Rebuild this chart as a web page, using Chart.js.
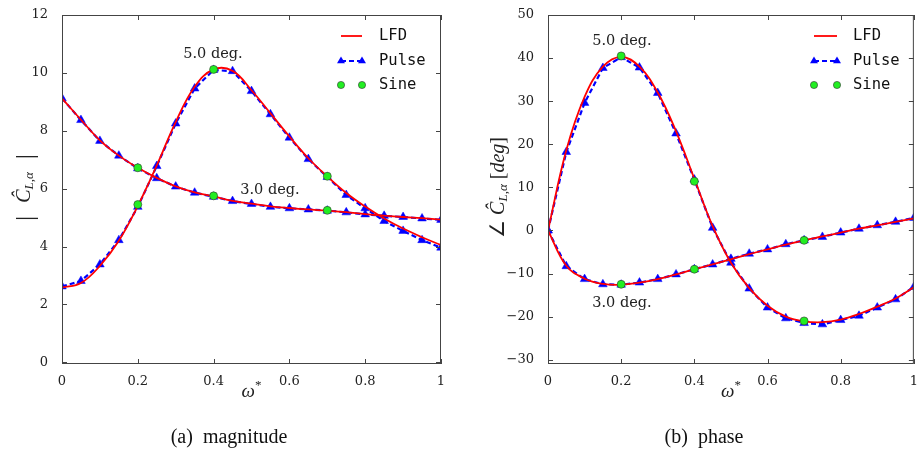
<!DOCTYPE html>
<html>
<head>
<meta charset="utf-8">
<script src="https://cdn.jsdelivr.net/npm/chart.js@4.4.1/dist/chart.umd.min.js"></script>
<style>
  body { margin: 0; background: #fff; }
  #wrap { position: relative; width: 920px; height: 453px; }
  canvas { position: absolute; top: 0; }
  .cap { position: absolute; top: 425px; width: 300px; text-align: center;
         font: 20px "Liberation Serif", serif; color: #111; white-space: pre; }
</style>
</head>
<body>
<div id="wrap">
  <canvas id="magChart" width="460" height="453" style="left:0"></canvas>
  <canvas id="phaseChart" width="460" height="453" style="left:460px"></canvas>
  <div class="cap" style="left:79px">(a)  magnitude</div>
  <div class="cap" style="left:554px">(b)  phase</div>
</div>
<script>
// reduced frequency samples
const omega = [0, 0.05, 0.1, 0.15, 0.2, 0.25, 0.3, 0.35, 0.4, 0.45, 0.5,
               0.55, 0.6, 0.65, 0.7, 0.75, 0.8, 0.85, 0.9, 0.95, 1.0];
const omegaSine = [0.2, 0.4, 0.7];

// magnitude |C_L,alpha|
const magLfd3   = [9.12, 8.38, 7.67, 7.14, 6.72, 6.37, 6.08, 5.87, 5.73, 5.58, 5.48,
                   5.39, 5.33, 5.28, 5.24, 5.19, 5.12, 5.07, 5.02, 4.98, 4.93];
const magPulse3 = [9.12, 8.37, 7.65, 7.14, 6.70, 6.36, 6.07, 5.86, 5.72, 5.57, 5.47,
                   5.37, 5.32, 5.28, 5.24, 5.18, 5.11, 5.06, 5.02, 4.97, 4.92];
const magSine3  = [6.72, 5.75, 5.25];
const magLfd5   = [2.58, 2.74, 3.33, 4.20, 5.40, 6.80, 8.30, 9.52, 10.12, 10.07, 9.40,
                   8.60, 7.80, 7.05, 6.42, 5.85, 5.38, 4.97, 4.62, 4.32, 4.05];
const magPulse5 = [2.62, 2.81, 3.38, 4.22, 5.37, 6.78, 8.25, 9.46, 10.10, 10.06, 9.37,
                   8.57, 7.76, 7.02, 6.40, 5.78, 5.32, 4.88, 4.54, 4.22, 3.96];
const magSine5  = [5.45, 10.12, 6.43];

// phase angle [deg]
const phLfd3    = [0, -8.2, -11.2, -12.4, -12.6, -12.1, -11.3, -10.2, -9.0, -7.9, -6.7,
                   -5.5, -4.4, -3.3, -2.3, -1.4, -0.5, 0.4, 1.2, 2.0, 2.8];
const phPulse3  = [0, -8.3, -11.3, -12.5, -12.6, -12.1, -11.3, -10.2, -9.0, -7.9, -6.6,
                   -5.4, -4.4, -3.2, -2.3, -1.5, -0.5, 0.4, 1.2, 2.0, 2.9];
const phSine3   = [-12.5, -9.0, -2.3];
const phLfd5    = [0, 18.6, 31.0, 38.0, 40.3, 38.0, 32.0, 23.0, 12.0, 1.0, -7.5,
                   -13.4, -17.5, -20.0, -21.1, -21.3, -20.7, -19.4, -17.7, -15.8, -13.2];
const phPulse5  = [0, 18.2, 29.6, 37.7, 40.2, 37.8, 31.9, 22.5, 11.8, 0.6, -7.5,
                   -13.5, -17.9, -20.4, -21.5, -21.8, -20.8, -19.8, -17.9, -16.0, -13.1];
const phSine5   = [40.5, 11.4, -21.0];

// tick labels
const xTicks = [0, 0.2, 0.4, 0.6, 0.8, 1];
const magTicks = [0, 2, 4, 6, 8, 10, 12];
const phTicks = [-30, -20, -10, 0, 10, 20, 30, 40, 50];

const seriesNames = ['LFD', 'Pulse', 'Sine'];

function pts(xs, ys) {
  return xs.map((x, i) => ({ x: x, y: ys[i] }));
}

function lfdSet(ys) {
  return { data: pts(omega, ys), borderColor: '#ff0000', borderWidth: 1.8,
           pointRadius: 0, tension: 0.4, order: 1 };
}
function pulseSet(ys) {
  return { data: pts(omega, ys), borderColor: '#0000ff', borderWidth: 2.2, borderDash: [5, 3],
           pointStyle: 'triangle', pointRadius: 5, pointBackgroundColor: '#0000ff',
           pointBorderColor: '#0000ff', pointBorderWidth: 0.5, tension: 0, order: 2 };
}
function sineSet(ys) {
  return { data: pts(omegaSine, ys), showLine: false, pointStyle: 'circle', pointRadius: 4,
           pointBackgroundColor: '#22ee22', pointBorderColor: '#333', pointBorderWidth: 0.6, order: 0 };
}

function drawRich(ctx, parts, cx, cy, rotate) {
  ctx.save();
  ctx.translate(cx, cy);
  if (rotate) ctx.rotate(-Math.PI / 2);
  let total = 0;
  parts.forEach(p => { ctx.font = p.font; p.w = ctx.measureText(p.t).width; total += p.w; });
  let x = -total / 2;
  ctx.textBaseline = 'middle';
  ctx.textAlign = 'left';
  ctx.fillStyle = '#222';
  parts.forEach(p => { ctx.font = p.font; ctx.fillText(p.t, x, p.dy || 0); x += p.w; });
  ctx.restore();
}

function triangle(ctx, x, y, r) {
  ctx.beginPath();
  for (let k = 0; k < 3; k++) {
    const a = k * 2 * Math.PI / 3;
    const px = x + Math.sin(a) * r, py = y - Math.cos(a) * r;
    if (k === 0) ctx.moveTo(px, py); else ctx.lineTo(px, py);
  }
  ctx.closePath();
  ctx.fill();
}

const decor = {
  id: 'decor',
  afterDraw(chart, args, opts) {
    const ctx = chart.ctx;
    const a = chart.chartArea;
    const xs = chart.scales.x, ys = chart.scales.y;
    ctx.save();
    // box + inward ticks on all four sides
    ctx.strokeStyle = '#444';
    ctx.lineWidth = 1;
    ctx.strokeRect(a.left + 0.5, a.top + 0.5, a.right - a.left - 1, a.bottom - a.top - 1);
    ctx.beginPath();
    xTicks.forEach(v => {
      const px = Math.round(xs.getPixelForValue(v)) + 0.5;
      ctx.moveTo(px, a.bottom); ctx.lineTo(px, a.bottom - 5);
      ctx.moveTo(px, a.top); ctx.lineTo(px, a.top + 5);
    });
    opts.yTicks.forEach(v => {
      const py = Math.round(ys.getPixelForValue(v)) + 0.5;
      ctx.moveTo(a.left, py); ctx.lineTo(a.left + 5, py);
      ctx.moveTo(a.right, py); ctx.lineTo(a.right - 5, py);
    });
    ctx.stroke();

    // axis titles
    drawRich(ctx, [{ t: 'ω', font: 'italic 19px "Liberation Serif"' },
                   { t: '*', font: '13px "Liberation Serif"', dy: -6 }],
             (a.left + a.right) / 2, 392, false);
    drawRich(ctx, opts.yTitle, opts.yTitleX, (a.top + a.bottom) / 2 - 2, true);

    // curve annotations
    ctx.font = '14.5px "DejaVu Serif"';
    ctx.fillStyle = '#222';
    ctx.textAlign = 'center';
    ctx.textBaseline = 'middle';
    opts.notes.forEach(n => ctx.fillText(n.t, n.x, n.y));

    // legend
    const L = opts.legend;
    const rows = [36, 61, 85];
    ctx.font = '15.5px "DejaVu Sans Mono"';
    ctx.textAlign = 'left';
    ctx.fillStyle = '#111';
    seriesNames.forEach((s, i) => ctx.fillText(s, L.tx, rows[i]));
    ctx.strokeStyle = '#ff0000';
    ctx.lineWidth = 1.8;
    ctx.beginPath(); ctx.moveTo(L.x1, rows[0]); ctx.lineTo(L.x2, rows[0]); ctx.stroke();
    ctx.strokeStyle = '#0000ff';
    ctx.lineWidth = 2;
    ctx.setLineDash([5, 3]);
    ctx.beginPath(); ctx.moveTo(L.x1, rows[1]); ctx.lineTo(L.x2, rows[1]); ctx.stroke();
    ctx.setLineDash([]);
    ctx.fillStyle = '#0000ff';
    triangle(ctx, L.x1, rows[1], 4.6);
    triangle(ctx, L.x2, rows[1], 4.6);
    ctx.fillStyle = '#22ee22';
    ctx.strokeStyle = '#333';
    ctx.lineWidth = 0.6;
    [L.x1, L.x2].forEach(x => {
      ctx.beginPath(); ctx.arc(x, rows[2], 3.6, 0, 2 * Math.PI); ctx.fill(); ctx.stroke();
    });
    ctx.restore();
  }
};

function fmt(v) {
  return String(v).replace('-', '\u2212');
}

function makeChart(id, sets, yMin, yMax, yTicks, yWidth, rightPad, decorOpts) {
  const ctx = document.getElementById(id).getContext('2d');
  decorOpts.yTicks = yTicks;
  return new Chart(ctx, {
    type: 'line',
    data: { datasets: sets },
    options: {
      responsive: false,
      animation: false,
      layout: { padding: { left: 0, right: rightPad, top: 15, bottom: 59 } },
      plugins: { legend: { display: false }, tooltip: { enabled: false }, decor: decorOpts },
      scales: {
        x: {
          type: 'linear', min: 0, max: 1,
          grid: { display: false }, border: { display: false },
          afterBuildTicks: s => { s.ticks = xTicks.map(v => ({ value: v })); },
          afterFit: s => { s.height = 30; },
          ticks: { color: '#222', padding: 2, maxRotation: 0,
                   font: { family: 'DejaVu Serif', size: 13 }, callback: v => fmt(v) }
        },
        y: {
          min: yMin, max: yMax,
          grid: { display: false }, border: { display: false },
          afterBuildTicks: s => { s.ticks = yTicks.map(v => ({ value: v })); },
          afterFit: s => { s.width = yWidth; },
          ticks: { color: '#222', padding: 6,
                   font: { family: 'DejaVu Serif', size: 13 }, callback: v => fmt(v) }
        }
      }
    },
    plugins: [decor]
  });
}

makeChart('magChart',
  [sineSet(magSine3), sineSet(magSine5), lfdSet(magLfd3), lfdSet(magLfd5),
   pulseSet(magPulse3), pulseSet(magPulse5)],
  -0.06, 12, magTicks, 62, 19,
  {
    yTitleX: 25,
    yTitle: [{ t: '|  ', font: '26px "Liberation Serif"', dy: 1 },
             { t: 'Ĉ', font: 'italic 20px "Liberation Serif"' },
             { t: 'L,α', font: 'italic 13px "Liberation Serif"', dy: 5 },
             { t: '  |', font: '26px "Liberation Serif"', dy: 1 }],
    notes: [{ t: '5.0 deg.', x: 213, y: 54 }, { t: '3.0 deg.', x: 270, y: 190 }],
    legend: { x1: 341, x2: 362, tx: 379 }
  });

makeChart('phaseChart',
  [sineSet(phSine3), sineSet(phSine5), lfdSet(phLfd3), lfdSet(phLfd5),
   pulseSet(phPulse3), pulseSet(phPulse5)],
  -31, 50, phTicks, 88, 6,
  {
    yTitleX: 39,
    yTitle: [{ t: '∠ ', font: '20px "Liberation Serif"' },
             { t: 'Ĉ', font: 'italic 20px "Liberation Serif"' },
             { t: 'L,α', font: 'italic 13px "Liberation Serif"', dy: 5 },
             { t: ' [', font: '20px "Liberation Serif"' },
             { t: 'deg', font: 'italic 20px "Liberation Serif"' },
             { t: ']', font: '20px "Liberation Serif"' }],
    notes: [{ t: '5.0 deg.', x: 162, y: 41 }, { t: '3.0 deg.', x: 162, y: 303 }],
    legend: { x1: 354, x2: 377, tx: 393 }
  });
</script>
</body>
</html>
